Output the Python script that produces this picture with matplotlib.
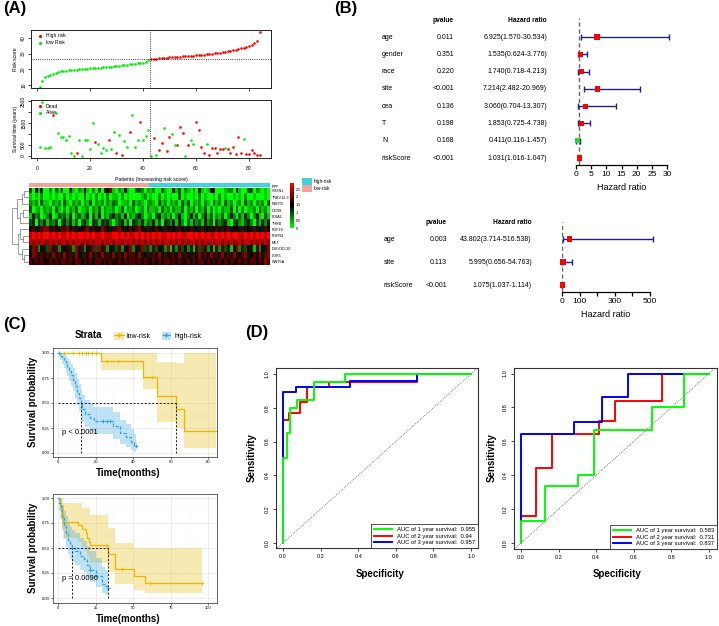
import numpy as np
import matplotlib
matplotlib.use("Agg")
import matplotlib.pyplot as plt
import matplotlib.transforms as mtransforms
from matplotlib.colors import LinearSegmentedColormap, ListedColormap
from matplotlib.patches import Patch
from matplotlib.lines import Line2D

plt.rcParams['font.family'] = ['Liberation Sans', 'DejaVu Sans']

# ---------------- (A) risk score, survival status, heatmap ----------------
risk_low = [9.0, 12.3, 14.8, 16.0, 16.6, 17.2, 17.8, 18.4, 18.7, 18.9, 19.1, 19.3, 19.5, 19.7,
            19.8, 20.0, 20.1, 20.3, 20.4, 20.6, 20.7, 20.8, 21.0, 21.1, 21.3, 21.4, 21.6, 21.8,
            22.0, 22.2, 22.4, 22.6, 22.8, 23.0, 23.2, 23.4, 23.6, 23.8, 24.0, 24.3, 24.8, 26.2]
risk_high = [26.6, 26.8, 26.9, 27.0, 27.2, 27.3, 27.4, 27.6, 27.7, 27.8, 27.9, 28.0, 28.2, 28.3,
             28.4, 28.5, 28.7, 28.9, 29.0, 29.2, 29.4, 29.6, 29.8, 30.0, 30.2, 30.4, 30.7, 31.0,
             31.3, 31.6, 31.9, 32.2, 32.6, 33.0, 33.4, 33.9, 34.4, 35.0, 35.7, 36.8, 38.0, 43.8]
time_low = [409, 2470, 350, 380, 425, 1850, 1940, 1060, 880, 880, 730, 910, 150, 15, 120, 730,
            0, 710, 730, 300, 1515, 650, 545, 150, 380, 260, 710, 330, 1090, 120, 970, 30, 700,
            395, 1075, 1850, 410, 730, 1545, 710, 925, 1200]
status_low = [0, 0, 0, 0, 0, 1, 0, 0, 0, 0, 0, 0, 0, 0, 1, 0, 0, 0, 0, 0, 0, 1, 0, 0, 0, 0, 1,
              0, 0, 1, 0, 1, 0, 0, 1, 0, 0, 0, 1, 0, 0, 0]
time_high = [15, 820, 45, 290, 575, 1290, 230, 850, 1000, 485, 485, 1300, 1060, 15, 485, 730,
             545, 1545, 1165, 410, 135, 560, 45, 380, 350, 120, 320, 330, 365, 300, 120, 410, 75,
             865, 150, 775, 105, 90, 275, 150, 45, 30]
status_high = [0, 1, 0, 1, 1, 0, 1, 1, 0, 0, 1, 1, 1, 0, 1, 0, 0, 1, 1, 1, 1, 0, 1, 1, 1, 1, 1,
               1, 0, 1, 1, 1, 1, 1, 1, 0, 1, 1, 1, 1, 1, 1]

genes = ['SRXN1', 'TRBV12-3', 'NUDT5', 'CCR8', 'PDIA2', 'THRB', 'FGF19', 'FGFR4', 'MET',
         'IGKV3D-20', 'LGR5', 'WNT5A']
# expression level per cell, 0 (green) .. 9 (red), 42 low-risk then 42 high-risk patients
expr_rows = [
    "305140 020313 004102 141020 304471 021410 033202 120031 004130 210204 101540 001220 410033 021010",
    "101020 010100 201010 030102 010201 102010 000120 100201 010030 100102 010010 201001 010200 100010",
    "212031 102120 310212 021302 120213 201120 312102 210312 021203 130212 021031 203120 120312 021203",
    "301202 120310 202130 112021 302112 013021 201203 112031 202113 021302 130201 021130 302011 203120",
    "142301 240132 314023 124031 402134 231402 134201 203412 130241 024130 241302 130242 031420 241031",
    "340424 132403 424130 342043 143420 234140 432413 241304 324142 031423 142304 234103 421342 031424",
    "565467 756546 675645 567465 576546 675456 567546 456546 545465 456454 645456 465645 546454 645465",
    "898989 989898 898989 989898 898889 989898 898989 898988 989898 899898 989889 898989 988989 898989",
    "878787 787878 878788 787878 878787 887878 787878 787878 878787 878878 787878 878787 787887 878787",
    "476254 374625 546274 625473 746254 362547 254736 263542 714263 524163 742516 263415 726354 162547",
    "576465 647564 756475 465746 574657 465746 657456 465746 546574 654657 465746 574657 456745 657467",
    "656565 565656 656566 565656 656565 565656 656565 565656 656565 565656 656565 656565 565656 656576",
]
# row clustering: (left node, right node, height)
dend_merges = [(0, 1, 2.0), (12, 2, 3.0), (3, 4, 2.5), (14, 5, 3.5), (13, 15, 5.0),
               (7, 8, 2.5), (6, 17, 3.5), (10, 11, 2.0), (9, 19, 3.0), (18, 20, 4.5), (16, 21, 7.0)]

# ---------------- (B) forest plots ----------------
uni_vars = ['age', 'gender', 'race', 'site', 'cea', 'T', 'N', 'riskScore']
uni_p = ['0.011', '0.351', '0.220', '<0.001', '0.136', '0.198', '0.168', '<0.001']
uni_hr = [6.925, 1.535, 1.740, 7.214, 3.060, 1.853, 0.411, 1.031]
uni_lo = [1.570, 0.624, 0.718, 2.482, 0.704, 0.725, 0.116, 1.016]
uni_hi = [30.534, 3.776, 4.213, 20.969, 13.307, 4.738, 1.457, 1.047]
multi_vars = ['age', 'site', 'riskScore']
multi_p = ['0.003', '0.113', '<0.001']
multi_hr = [43.802, 5.995, 1.075]
multi_lo = [3.714, 0.656, 1.037]
multi_hi = [516.538, 54.763, 1.114]

# ---------------- (C) Kaplan-Meier ----------------
km1_low_t = [0, 23, 45, 52.5, 63, 67, 84]
km1_low_s = [1.0, 0.92, 0.76, 0.57, 0.44, 0.22, 0.22]
km1_low_lo = [1.0, 0.83, 0.64, 0.31, 0.25, 0.05, 0.05]
km1_low_hi = [1.0, 1.0, 1.0, 0.91, 0.90, 1.0, 1.0]
km1_low_cens = [3, 8, 11, 13, 15, 16, 18, 20, 26, 32, 50]
km1_high_t = [0, 1, 2, 3, 4, 5, 6, 7, 8, 9, 10, 11, 12, 13, 14.5, 17, 19, 29.5, 33, 36, 39, 40.5, 41.5]
km1_high_s = [1.0, 0.975, 0.95, 0.92, 0.89, 0.86, 0.82, 0.78, 0.73, 0.67, 0.6, 0.55, 0.5, 0.44,
              0.39, 0.35, 0.32, 0.27, 0.2, 0.16, 0.11, 0.07, 0.07]
km1_high_lo = [1.0, 0.93, 0.89, 0.85, 0.81, 0.77, 0.72, 0.67, 0.62, 0.55, 0.48, 0.42, 0.37, 0.31,
               0.26, 0.22, 0.19, 0.14, 0.09, 0.06, 0.03, 0.01, 0.01]
km1_high_hi = [1.0, 1.0, 1.0, 0.99, 0.97, 0.95, 0.92, 0.89, 0.85, 0.8, 0.74, 0.69, 0.64, 0.58,
               0.53, 0.49, 0.46, 0.41, 0.33, 0.29, 0.24, 0.19, 0.19]
km1_high_cens = [0.5, 24, 26, 27.5, 41.5]

km2_low_t = [0, 1.5, 2.5, 3.5, 13.5, 16, 18.5, 19.5, 20.5, 21, 33, 38, 50.5, 58, 95.5]
km2_low_s = [1.0, 0.93, 0.85, 0.76, 0.73, 0.69, 0.65, 0.6, 0.56, 0.53, 0.44, 0.29, 0.22, 0.155, 0.155]
km2_low_lo = [1.0, 0.8, 0.7, 0.6, 0.56, 0.51, 0.47, 0.42, 0.38, 0.35, 0.26, 0.14, 0.08, 0.05, 0.05]
km2_low_hi = [1.0, 1.0, 1.0, 0.95, 0.95, 0.9, 0.9, 0.9, 0.9, 0.83, 0.7, 0.55, 0.5, 0.5, 0.5]
km2_low_cens = [32, 42.3, 61, 95.5]
km2_high_t = [0, 1, 2, 3, 4, 5.5, 7, 8, 9.3, 11, 14.5, 17, 19, 21, 25.5, 29, 31, 33.5]
km2_high_s = [1.0, 0.95, 0.88, 0.8, 0.72, 0.65, 0.58, 0.53, 0.5, 0.47, 0.42, 0.39, 0.33, 0.28,
              0.22, 0.14, 0.12, 0.1]
km2_high_lo = [1.0, 0.87, 0.78, 0.68, 0.59, 0.51, 0.44, 0.39, 0.36, 0.33, 0.28, 0.25, 0.2, 0.16,
               0.11, 0.05, 0.03, 0.02]
km2_high_hi = [1.0, 1.0, 0.98, 0.93, 0.87, 0.82, 0.76, 0.71, 0.68, 0.65, 0.6, 0.57, 0.52, 0.47,
               0.4, 0.31, 0.28, 0.26]
km2_high_cens = [21.5, 33.5]

# ---------------- (D) ROC curves (x = 1 - specificity, vertical step first) ----------------
roc1_fpr = [[0, 0.023, 0.04, 0.076, 0.164, 0.33, 1.0],
            [0, 0.03, 0.093, 0.127, 0.247, 0.714, 1.0],
            [0, 0.07, 0.356, 0.714, 1.0]]
roc1_tpr = [[0, 0.5, 0.65, 0.8, 0.846, 0.95, 1.0],
            [0, 0.73, 0.77, 0.835, 0.92, 0.95, 1.0],
            [0, 0.895, 0.92, 0.96, 1.0]]
roc1_auc = [0.955, 0.94, 0.957]
roc2_fpr = [[0, 0.128, 0.305, 0.39, 0.696, 0.87, 1.0],
            [0, 0.08, 0.167, 0.417, 0.5, 0.75, 1.0],
            [0, 0.284, 0.43, 0.572, 1.0]]
roc2_tpr = [[0, 0.13, 0.335, 0.4, 0.667, 0.8, 1.0],
            [0, 0.16, 0.44, 0.642, 0.72, 0.84, 1.0],
            [0, 0.645, 0.713, 0.86, 1.0]]
roc2_auc = [0.583, 0.731, 0.837]

W, H = 719, 626
fig = plt.figure(figsize=(W / 100, H / 100), dpi=100)


def add_ax(x0, y0, x1, y1):
    return fig.add_axes([x0 / W, 1 - y1 / H, (x1 - x0) / W, (y1 - y0) / H])


def ftext(x, y, s, **kw):
    return fig.text(x / W, 1 - y / H, s, **kw)


def rot_yticks(ax):
    for lab in ax.get_yticklabels():
        lab.set_rotation(90)
        lab.set_va('center')


RED, GREEN = '#ff0000', '#00ee00'

# ---- risk score plot
n_low, n_high = len(risk_low), len(risk_high)
pid = np.arange(1, n_low + n_high + 1)
risk = np.array(risk_low + risk_high)
cut_x = n_low + 0.5
cut_y = (risk_low[-1] + risk_high[0]) / 2

ax1 = add_ax(31, 30, 271, 88)
ax1.scatter(pid[n_low:], risk[n_low:], s=3.5, c=RED, lw=0, label='High risk')
ax1.scatter(pid[:n_low], risk[:n_low], s=3.5, c=GREEN, lw=0, label='low Risk')
ax1.axvline(cut_x, color='k', ls=':', lw=0.6)
ax1.axhline(cut_y, color='k', ls=':', lw=0.6)
ax1.set_xlim(-2.26, 88.3)
ax1.set_ylim(8.1, 45.1)
ax1.set_xticks([0, 20, 40, 60, 80])
ax1.set_xticklabels([])
ax1.set_yticks([10, 20, 30, 40])
ax1.tick_params(length=2, width=0.5, labelsize=3.6, pad=1.5)
rot_yticks(ax1)
ax1.set_ylabel('Risk score', fontsize=3.6, labelpad=2)
ax1.legend(loc='upper left', fontsize=3.6, frameon=False, handletextpad=0.3, borderaxespad=0.3,
           labelspacing=0.3, markerscale=1.2)
for sp in ax1.spines.values():
    sp.set_linewidth(0.6)

# ---- survival status plot
t_all = np.array(time_low + time_high)
st_all = np.array(status_low + status_high)
ax2 = add_ax(31, 100, 271, 158)
ax2.scatter(pid[st_all == 1], t_all[st_all == 1], s=3.5, c=RED, lw=0, label='Dead')
ax2.scatter(pid[st_all == 0], t_all[st_all == 0], s=3.5, c=GREEN, lw=0, label='Alive')
ax2.axvline(cut_x, color='k', ls=':', lw=0.6)
ax2.set_xlim(-2.26, 88.3)
ax2.set_ylim(-91, 2545)
ax2.set_xticks([0, 20, 40, 60, 80])
ax2.set_yticks([0, 500, 1000, 1500, 2000, 2500])
ax2.set_yticklabels(['0', '500', '', '1500', '', '2500'])
ax2.tick_params(length=2, width=0.5, labelsize=3.6, pad=1.5)
ax2.tick_params(axis='x', pad=4)
rot_yticks(ax2)
ax2.set_ylabel('Survival time (years)', fontsize=3.6, labelpad=2)
ax2.set_xlabel('Patients (increasing risk score)', fontsize=3.8, labelpad=4)
ax2.legend(loc='upper left', fontsize=3.6, frameon=False, handletextpad=0.3, borderaxespad=0.3,
           labelspacing=0.3, markerscale=1.2)
for sp in ax2.spines.values():
    sp.set_linewidth(0.6)

# ---- heatmap
mat = np.array([[int(c) for c in "".join(r.split())] for r in expr_rows]) * 0.32
hm_cmap = LinearSegmentedColormap.from_list('gbr', ['#00ff00', '#000000', '#ff0000'])
LOW_COL, HIGH_COL = '#f4a29c', '#3fd3dc'

axh = add_ax(29, 187.5, 270, 265)
img = axh.imshow(mat, cmap=hm_cmap, vmin=0, vmax=2.9, aspect='auto', interpolation='nearest',
                 extent=(0, mat.shape[1], len(genes), 0))
axh.set_xlim(0, mat.shape[1])
axh.set_ylim(len(genes), 0)
axh.set_xticks([])
axh.yaxis.tick_right()
axh.set_yticks(np.arange(len(genes)) + 0.5)
axh.set_yticklabels(genes, fontsize=2.7)
axh.tick_params(length=0, pad=1.5)
for sp in axh.spines.values():
    sp.set_visible(False)

axa = add_ax(29, 183.2, 270, 187)
grp = np.array([[0] * n_low + [1] * n_high])
axa.imshow(grp, cmap=ListedColormap([LOW_COL, HIGH_COL]), aspect='auto', interpolation='nearest',
           extent=(0, grp.shape[1], 1, 0))
axa.set_xlim(0, grp.shape[1])
axa.set_xticks([])
axa.yaxis.tick_right()
axa.set_yticks([0.5])
axa.set_yticklabels(['type'], fontsize=2.7)
axa.tick_params(length=0, pad=1.5)
for sp in axa.spines.values():
    sp.set_visible(False)

axd = add_ax(11, 187.5, 29, 265)
ypos = {i: i + 0.5 for i in range(len(genes))}
hpos = {i: 0.0 for i in range(len(genes))}
for k, (a, b, h) in enumerate(dend_merges):
    node = len(genes) + k
    axd.plot([hpos[a], h, h, hpos[b]], [ypos[a], ypos[a], ypos[b], ypos[b]], color='#777777', lw=0.5)
    ypos[node] = (ypos[a] + ypos[b]) / 2
    hpos[node] = h
axd.set_xlim(7.4, 0)
axd.set_ylim(len(genes), 0)
axd.axis('off')

cax = add_ax(290, 183, 293.5, 228)
cb = fig.colorbar(img, cax=cax, ticks=[0, 0.5, 1, 1.5, 2, 2.5])
cb.set_ticklabels(['0', '0.5', '1', '1.5', '2', '2.5'])
cb.outline.set_visible(False)
cax.tick_params(labelsize=2.7, length=0, pad=1.5)

fig.legend(handles=[Patch(fc=HIGH_COL), Patch(fc=LOW_COL)], labels=['high-risk', 'low-risk'],
           loc='upper left', bbox_to_anchor=(302 / W, 1 - 178 / H), frameon=False, fontsize=3.4,
           handlelength=2.1, handleheight=1.9, borderpad=0, borderaxespad=0, labelspacing=0.05,
           handletextpad=0.4)


# ---------------- (B) forest ----------------
def forest(ax, names, pvals, hr, lo, hi, x_name, x_p, x_hr, head_row, xlim, xticks, xticklabels):
    hr, lo, hi = np.asarray(hr), np.asarray(lo), np.asarray(hi)
    rows = np.arange(len(names))
    ax.axvline(1, color='#666666', ls=(0, (3, 2)), lw=1.0, zorder=0)
    ax.errorbar(hr, rows, xerr=[hr - lo, hi - hr], fmt='none', ecolor='#1f1f8f', elinewidth=1.0,
                capsize=2.2, capthick=1.0, clip_on=False)
    cols = [RED if h > 1 else '#22dd22' for h in hr]
    ax.scatter(hr, rows, marker='s', s=14, c=cols, zorder=3, lw=0, clip_on=False)
    ax.set_xlim(*xlim)
    ax.set_xticks(xticks)
    ax.set_xticklabels(xticklabels)
    ax.set_yticks([])
    for side in ['top', 'right', 'left']:
        ax.spines[side].set_visible(False)
    ax.spines['bottom'].set_linewidth(0.9)
    ax.tick_params(axis='x', length=3, width=0.9, labelsize=6, pad=1)
    ax.set_xlabel('Hazard ratio', fontsize=6.5, labelpad=4)
    tr = mtransforms.blended_transform_factory(fig.transFigure, ax.transData)
    ax.text(x_p / W, head_row, 'pvalue', transform=tr, ha='right', va='center', fontsize=4.8,
            fontweight='bold')
    ax.text(x_hr / W, head_row, 'Hazard ratio', transform=tr, ha='right', va='center', fontsize=4.8,
            fontweight='bold')
    for i in rows:
        ax.text(x_name / W, i, names[i], transform=tr, ha='left', va='center', fontsize=5)
        ax.text(x_p / W, i, pvals[i], transform=tr, ha='right', va='center', fontsize=5)
        ax.text(x_hr / W, i, f'{hr[i]:.3f}({lo[i]:.3f}-{hi[i]:.3f})', transform=tr, ha='right',
                va='center', fontsize=5)


fa = add_ax(576, 18, 667, 165)
fa.set_ylim(7.40, -1.10)
forest(fa, uni_vars, uni_p, uni_hr, uni_lo, uni_hi, 382, 454, 547, -0.95, (0, 30),
       [0, 5, 10, 15, 20, 25, 30], ['0', '5', '10', '15', '20', '25', '30'])

fb = add_ax(562, 222, 650, 292)
fb.set_ylim(2.30, -0.74)
forest(fb, multi_vars, multi_p, multi_hr, multi_lo, multi_hi, 384, 447, 532, -0.7, (0, 500),
       [0, 100, 200, 300, 400, 500], ['0', '100', '', '300', '', '500'])

# ---------------- (C) KM ----------------
YEL, BLU = '#E7B800', '#2E9FDF'


def km_panel(ax, groups, xlim, ylim, xticks, ptext, pxy):
    for t, s, lo, hi, cens, col, ls in groups:
        ax.fill_between(t, lo, hi, step='post', color=col, alpha=0.3, lw=0)
    meds = []
    for t, s, lo, hi, cens, col, ls in groups:
        t_arr, s_arr = np.asarray(t), np.asarray(s)
        ax.step(t_arr, s_arr, where='post', color=col, lw=0.9, ls=ls)
        idx = np.searchsorted(t_arr, cens, side='right') - 1
        ax.plot(cens, s_arr[idx], ls='none', marker='+', ms=2.5, mew=0.6, color=col)
        meds.append(t_arr[np.argmax(s_arr <= 0.5)])
    ax.hlines(0.5, 0, max(meds), colors='k', linestyles=(0, (2.5, 2)), lw=0.6)
    ax.vlines(meds, 0, 0.5, colors='k', linestyles=(0, (2.5, 2)), lw=0.6)
    ax.set_xlim(*xlim)
    ax.set_ylim(*ylim)
    ax.set_xticks(xticks)
    ax.set_xticks([(a + b) / 2 for a, b in zip(xticks[:-1], xticks[1:])], minor=True)
    ax.set_yticks([0, 0.25, 0.5, 0.75, 1.0])
    ax.set_yticklabels(['0.00', '0.25', '0.50', '0.75', '1.00'])
    ax.set_yticks([0.125, 0.375, 0.625, 0.875], minor=True)
    ax.grid(True, which='major', color='#e6e6e6', lw=0.5)
    ax.grid(True, which='minor', color='#f3f3f3', lw=0.3)
    ax.set_axisbelow(True)
    ax.tick_params(which='major', labelsize=3, length=1.5, width=0.4, pad=1)
    ax.tick_params(which='minor', length=0)
    for sp in ax.spines.values():
        sp.set_color('#4d4d4d')
        sp.set_linewidth(0.6)
    ax.text(pxy[0], pxy[1], ptext, fontsize=5.5, ha='left', va='center')


kmA = add_ax(53, 348, 217, 457)
km_panel(kmA, [(km1_low_t, km1_low_s, km1_low_lo, km1_low_hi, km1_low_cens, YEL, '-'),
               (km1_high_t, km1_high_s, km1_high_lo, km1_high_hi, km1_high_cens, BLU, (0, (2.5, 1.5)))],
         (-2.66, 84.6), (-0.04, 1.05), [0, 20, 40, 60, 80], 'p < 0.0001', (2.1, 0.2))
kmB = add_ax(53, 494, 217, 603)
km_panel(kmB, [(km2_low_t, km2_low_s, km2_low_lo, km2_low_hi, km2_low_cens, YEL, '-'),
               (km2_high_t, km2_high_s, km2_high_lo, km2_high_hi, km2_high_cens, BLU, (0, (2.5, 1.5)))],
         (-3.3, 105.7), (-0.05, 1.04), [0, 25, 50, 75, 100], 'p = 0.0096', (2.7, 0.19))

for yc in (402, 548):
    ftext(33, yc, 'Survival probability', rotation=90, ha='center', va='center', fontsize=7,
          fontweight='bold')
for yc in (473, 619):
    ftext(128, yc, 'Time(months)', ha='center', va='center', fontsize=7, fontweight='bold')
ftext(88, 335, 'Strata', ha='center', va='center', fontsize=7, fontweight='bold')
fig.legend(handles=[(Patch(fc=YEL, alpha=0.3, lw=0), Line2D([], [], color=YEL, lw=0.9, marker='+', ms=2.5)),
                    (Patch(fc=BLU, alpha=0.3, lw=0), Line2D([], [], color=BLU, lw=0.9, ls=(0, (2.5, 1.5)),
                                                          marker='+', ms=2.5))],
           labels=['low-risk', 'high-risk'], ncol=2, loc='center left',
           bbox_to_anchor=(114 / W, 1 - 336 / H), frameon=False, fontsize=5, handlelength=1.4,
           handleheight=1.3, columnspacing=1.6, handletextpad=0.4, borderpad=0, borderaxespad=0)


# ---------------- (D) ROC ----------------
def roc_panel(ax, fprs, tprs, aucs, xlim, ylim):
    cols = ['#00ff00', '#ff0000', '#0000ff']
    zs = [4, 2, 3]
    for k in range(3):
        ax.plot(fprs[k], tprs[k], drawstyle='steps-pre', color=cols[k], lw=1.4, zorder=zs[k],
                label=f'AUC of {k + 1} year survival:  {aucs[k]}')
    ax.axline((0, 0), slope=1, ls=(0, (1, 1.5)), color='#555555', lw=0.6, zorder=1)
    ax.set_xlim(*xlim)
    ax.set_ylim(*ylim)
    ticks = [0, 0.2, 0.4, 0.6, 0.8, 1.0]
    labs = ['0.0', '0.2', '0.4', '0.6', '0.8', '1.0']
    ax.set_xticks(ticks)
    ax.set_xticklabels(labs)
    ax.set_yticks(ticks)
    ax.set_yticklabels(labs)
    ax.tick_params(length=2.5, width=0.5, labelsize=4, pad=2)
    rot_yticks(ax)
    for sp in ax.spines.values():
        sp.set_linewidth(0.8)
        sp.set_color('#333333')
    leg = ax.legend(loc='lower right', fontsize=4.2, frameon=True, fancybox=False, edgecolor='#333333',
                    framealpha=1, borderaxespad=0, handlelength=3.2, borderpad=0.5, labelspacing=0.25)
    leg.get_frame().set_linewidth(0.6)


rocA = add_ax(276, 368, 478, 548)
roc_panel(rocA, roc1_fpr, roc1_tpr, roc1_auc, (-0.037, 1.037), (-0.03, 1.035))
rocB = add_ax(514, 368, 717, 549)
roc_panel(rocB, roc2_fpr, roc2_tpr, roc2_auc, (-0.037, 1.043), (-0.035, 1.033))
ftext(380, 574, 'Specificity', ha='center', va='center', fontsize=7, fontweight='bold')
ftext(617, 574, 'Specificity', ha='center', va='center', fontsize=7, fontweight='bold')
ftext(252, 458, 'Sensitivity', rotation=90, ha='center', va='center', fontsize=7, fontweight='bold')
ftext(492, 458, 'Sensitivity', rotation=90, ha='center', va='center', fontsize=7, fontweight='bold')

# panel letters
ftext(3, 9, '(A)', fontsize=12, fontweight='bold', va='center')
ftext(334, 8, '(B)', fontsize=12, fontweight='bold', va='center')
ftext(3, 325, '(C)', fontsize=12, fontweight='bold', va='center')
ftext(245, 333, '(D)', fontsize=12, fontweight='bold', va='center')

fig.savefig('out.png', dpi=100, facecolor='white')
